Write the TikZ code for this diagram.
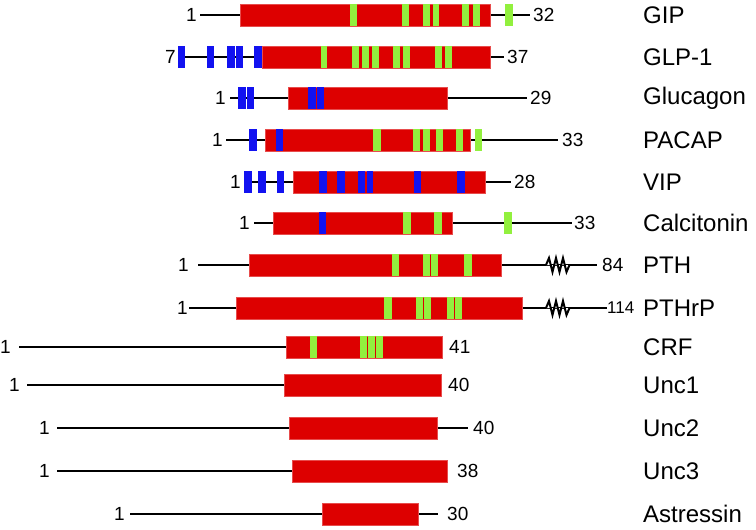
\documentclass[tikz,border=0pt]{standalone}
\usepackage{fontspec}
\setmainfont{Liberation Sans}
\usepackage{xcolor}
\definecolor{helixred}{RGB}{221,0,0}
\definecolor{sitegreen}{RGB}{146,240,62}
\definecolor{siteblue}{RGB}{18,18,240}
\usetikzlibrary{positioning}

% one residue mark across the full height of a row
\newcommand{\resmark}[3]{\fill[#1] (#2,\rowy-11) rectangle (#3,\rowy+11);}
% break in a long chain
\newcommand{\chainbreak}[1]{\draw[chain, line width=2pt, fill=white] (#1,\rowy) -- ++(3,-7) -- ++(3.5,14) -- ++(3.5,-14) -- ++(3.5,14) -- ++(3.5,-14) -- ++(3.5,14) -- ++(3,-7);}

\begin{document}
\begin{tikzpicture}[x=1pt, y=-1pt,
    chain/.style={line width=1.8pt, black, line join=miter},
    core/.style={fill=helixred, draw=helixred!70, line width=0.3pt},
    num/.style={font=\fontsize{19}{19}\selectfont, inner sep=0pt},
    pname/.style={font=\fontsize{24}{24}\selectfont, anchor=west, inner sep=0pt}]
  \useasboundingbox (0,0) rectangle (756,530);

  % GIP
  \def\rowy{15}
  \draw[chain] (200,\rowy) -- (530,\rowy);
  \fill[core] (240,\rowy-11) rectangle (490,\rowy+11);
  \foreach \a/\b in {350/357,402/409,423/430,433/439,462/469,473/480,505/513} {\resmark{sitegreen}{\a}{\b}}
  \node[num, anchor=east] (gipA) at (197,\rowy) {1};
  \node[num, anchor=west] (gipB) at (533,\rowy) {32};
  \node[pname] (gip) at (643,\rowy) {GIP};

  % GLP-1
  \def\rowy{57}
  \draw[chain] (182,\rowy) -- (504,\rowy);
  \fill[core] (262,\rowy-11) rectangle (490,\rowy+11);
  \foreach \a/\b in {178/185,207/214,227/235,236/243,254/262} {\resmark{siteblue}{\a}{\b}}
  \foreach \a/\b in {321/327,352/359,362/369,372/379,393/400,403/410,435/442,445/452} {\resmark{sitegreen}{\a}{\b}}
  \node[num, anchor=east] (glpA) at (176,\rowy) {7};
  \node[num, anchor=west] (glpB) at (507,\rowy) {37};
  \node[pname] (glp) at (643,\rowy) {GLP-1};

  % Glucagon
  \def\rowy{98}
  \draw[chain] (230,\rowy) -- (527,\rowy);
  \fill[core] (288,\rowy-11) rectangle (447,\rowy+11);
  \foreach \a/\b in {238/246,247/254,308/316,317/324} {\resmark{siteblue}{\a}{\b}}
  \node[num, anchor=east] (gcgA) at (226,\rowy) {1};
  \node[num, anchor=west] (gcgB) at (530,\rowy) {29};
  \node[pname] (gcg) at (643,\rowy) {Glucagon};

  % PACAP
  \def\rowy{140}
  \draw[chain] (226,\rowy) -- (558,\rowy);
  \fill[core] (265,\rowy-11) rectangle (470,\rowy+11);
  \foreach \a/\b in {249/257,276/283} {\resmark{siteblue}{\a}{\b}}
  \foreach \a/\b in {373/381,413/420,423/430,436/443,456/463,475/482} {\resmark{sitegreen}{\a}{\b}}
  \node[num, anchor=east] (pacA) at (223,\rowy) {1};
  \node[num, anchor=west] (pacB) at (562,\rowy) {33};
  \node[pname] (pac) at (643,\rowy) {PACAP};

  % VIP
  \def\rowy{182}
  \draw[chain] (244,\rowy) -- (511,\rowy);
  \fill[core] (293,\rowy-11) rectangle (485,\rowy+11);
  \foreach \a/\b in {244/252,258/266,277/284,319/327,337/345,358/365,367/373,414/421,457/465} {\resmark{siteblue}{\a}{\b}}
  \node[num, anchor=east] (vipA) at (241,\rowy) {1};
  \node[num, anchor=west] (vipB) at (514,\rowy) {28};
  \node[pname] (vip) at (643,\rowy) {VIP};

  % Calcitonin
  \def\rowy{223}
  \draw[chain] (254,\rowy) -- (572,\rowy);
  \fill[core] (273,\rowy-11) rectangle (452,\rowy+11);
  \resmark{siteblue}{319}{326}
  \foreach \a/\b in {403/411,434/442,504/512} {\resmark{sitegreen}{\a}{\b}}
  \node[num, anchor=east] (calA) at (250,\rowy) {1};
  \node[num, anchor=west] (calB) at (574,\rowy) {33};
  \node[pname] (cal) at (643,\rowy) {Calcitonin};

  % PTH
  \def\rowy{265}
  \draw[chain] (198,\rowy) -- (597,\rowy);
  \fill[core] (249,\rowy-11) rectangle (501,\rowy+11);
  \foreach \a/\b in {392/399,423/430,431/438,464/472} {\resmark{sitegreen}{\a}{\b}}
  \chainbreak{546}
  \node[num, anchor=east] (pthA) at (189,\rowy) {1};
  \node[num, anchor=west] (pthB) at (602,\rowy) {84};
  \node[pname] (pth) at (643,\rowy) {PTH};

  % PTHrP
  \def\rowy{308}
  \draw[chain] (189,\rowy) -- (607,\rowy);
  \fill[core] (236,\rowy-11) rectangle (522,\rowy+11);
  \foreach \a/\b in {384/392,416/423,424/431,447/454,455/462} {\resmark{sitegreen}{\a}{\b}}
  \chainbreak{546}
  \node[num, anchor=east] (ptrA) at (188,\rowy) {1};
  \node[num, anchor=west, font=\fontsize{17}{17}\selectfont] (ptrB) at (607,\rowy) {114};
  \node[pname] (ptr) at (643,\rowy) {PTHrP};

  % CRF
  \def\rowy{347}
  \draw[chain] (19,\rowy) -- (286,\rowy);
  \fill[core] (286,\rowy-11) rectangle (442,\rowy+11);
  \foreach \a/\b in {310/317,360/367,368/375,376/383} {\resmark{sitegreen}{\a}{\b}}
  \node[num, anchor=east] (crfA) at (11,\rowy) {1};
  \node[num, anchor=west] (crfB) at (449,\rowy) {41};
  \node[pname] (crf) at (643,\rowy) {CRF};

  % Unc1
  \def\rowy{385}
  \draw[chain] (27,\rowy) -- (284,\rowy);
  \fill[core] (284,\rowy-11) rectangle (441,\rowy+11);
  \node[num, anchor=east] (ucaA) at (20,\rowy) {1};
  \node[num, anchor=west] (ucaB) at (448,\rowy) {40};
  \node[pname] (uca) at (643,\rowy) {Unc1};

  % Unc2
  \def\rowy{428}
  \draw[chain] (57,\rowy) -- (468,\rowy);
  \fill[core] (289,\rowy-11) rectangle (437,\rowy+11);
  \node[num, anchor=east] (ucbA) at (50,\rowy) {1};
  \node[num, anchor=west] (ucbB) at (473,\rowy) {40};
  \node[pname] (ucb) at (643,\rowy) {Unc2};

  % Unc3
  \def\rowy{471}
  \draw[chain] (57,\rowy) -- (292,\rowy);
  \fill[core] (292,\rowy-11) rectangle (447,\rowy+11);
  \node[num, anchor=east] (uccA) at (50,\rowy) {1};
  \node[num, anchor=west] (uccB) at (457,\rowy) {38};
  \node[pname] (ucc) at (643,\rowy) {Unc3};

  % Astressin
  \def\rowy{514}
  \draw[chain] (130,\rowy) -- (438,\rowy);
  \fill[core] (322,\rowy-11) rectangle (418,\rowy+11);
  \node[num, anchor=east] (astA) at (125,\rowy) {1};
  \node[num, anchor=west] (astB) at (447,\rowy) {30};
  \node[pname] (ast) at (643,\rowy) {Astressin};
\end{tikzpicture}
\end{document}
